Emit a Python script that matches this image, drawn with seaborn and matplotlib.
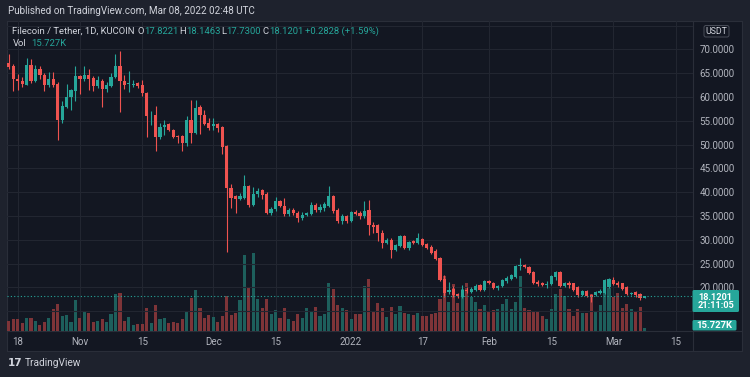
import matplotlib
matplotlib.use("Agg")
import matplotlib.pyplot as plt
from matplotlib.patches import FancyBboxPatch
import numpy as np
import pandas as pd
import seaborn as sns

# ---------------- data (FIL/USDT daily, KuCoin) ----------------
first_day = "2021-10-16"
opens = [67.2, 66.5, 63.8, 63.3, 62.6, 66.8, 63.3, 65.8, 64.7, 62.4,
         63.8, 62.8, 55.1, 57.9, 59.9, 61.2, 64.3, 63.7, 64.5, 64.0,
         62.2, 63.3, 61.7, 62.2, 64.1, 66.6, 63.3, 62.7, 62.5, 62.9,
         62.4, 60.8, 56.1, 56.1, 51.6, 53.7, 54.3, 53.1, 51.7, 51.7,
         50.4, 55.2, 52.5, 57.8, 56.3, 54.5, 53.8, 54.3, 53.7, 49.6,
         40.9, 39.1, 38.5, 38.8, 41.2, 37.2, 39.5, 40.4, 39.7, 35.6,
         36.4, 38.1, 37.0, 35.3, 36.3, 35.7, 34.6, 35.1, 35.3, 37.2,
         36.3, 36.7, 37.0, 39.1, 36.2, 33.9, 34.9, 33.9, 35.8, 35.7,
         34.9, 36.2, 33.1, 33.0, 31.4, 29.3, 30.0, 27.9, 28.6, 30.7,
         28.3, 29.7, 29.3, 30.2, 29.0, 28.5, 27.6, 26.2, 21.8, 19.0,
         19.7, 18.5, 18.0, 19.5, 19.1, 19.5, 20.4, 19.5, 21.3, 20.9,
         19.9, 20.2, 21.3, 21.7, 22.2, 24.5, 24.6, 24.3, 23.2, 21.1,
         20.9, 20.5, 20.6, 22.2, 23.2, 20.2, 20.9, 20.8, 20.0, 18.3,
         19.2, 18.3, 18.3, 18.8, 18.7, 20.1, 21.6, 20.9, 20.8, 20.1,
         18.5, 19.0, 18.5, 17.8221]
highs = [69.1, 67.0, 64.9, 64.1, 68.1, 68.0, 66.8, 66.4, 65.0, 65.2,
         65.2, 63.1, 59.1, 62.8, 61.6, 66.6, 64.6, 66.4, 65.8, 64.4,
         64.3, 63.8, 63.2, 65.1, 69.1, 69.6, 64.5, 65.4, 63.5, 63.2,
         63.5, 61.0, 57.0, 58.0, 54.5, 55.1, 54.6, 53.3, 52.0, 52.0,
         55.9, 59.3, 59.3, 58.2, 57.2, 55.6, 55.6, 54.5, 53.8, 49.8,
         41.6, 39.3, 39.8, 43.5, 41.5, 41.1, 40.8, 40.6, 40.0, 36.8,
         39.0, 38.4, 38.8, 36.6, 36.7, 36.0, 35.8, 35.9, 37.9, 37.7,
         37.4, 37.9, 41.2, 39.4, 36.6, 35.3, 35.2, 36.1, 36.2, 36.0,
         38.1, 38.4, 33.7, 33.2, 32.0, 30.4, 30.3, 29.2, 31.0, 31.0,
         29.8, 30.0, 31.5, 30.4, 29.4, 28.8, 28.0, 26.4, 22.5, 21.1,
         20.3, 18.8, 20.4, 20.0, 20.0, 20.6, 20.7, 21.6, 21.6, 21.1,
         20.5, 21.8, 22.3, 22.9, 24.7, 26.2, 24.9, 24.5, 23.4, 21.5,
         21.2, 21.3, 22.6, 23.5, 23.5, 21.1, 21.3, 21.0, 20.2, 19.4,
         19.4, 18.5, 19.3, 19.6, 21.7, 22.0, 22.2, 21.4, 21.0, 20.3,
         19.1, 19.2, 18.9, 18.1463]
lows = [65.8, 61.2, 61.4, 62.1, 62.4, 63.0, 63.2, 63.8, 61.2, 62.0,
        62.0, 51.0, 54.5, 57.7, 57.3, 59.1, 60.7, 63.3, 61.5, 61.2,
        61.9, 57.9, 61.1, 62.0, 64.0, 56.8, 61.7, 61.0, 62.0, 61.8,
        60.1, 51.5, 54.0, 48.6, 51.1, 52.1, 52.8, 51.4, 50.4, 48.6,
        49.7, 50.4, 52.3, 52.3, 54.0, 53.0, 53.0, 52.6, 48.1, 27.4,
        36.7, 35.6, 38.3, 38.5, 36.9, 37.0, 39.0, 38.6, 35.4, 35.2,
        36.0, 36.8, 35.0, 35.0, 35.2, 33.7, 34.2, 34.9, 35.1, 35.9,
        35.9, 36.0, 36.8, 35.6, 33.5, 33.2, 33.6, 33.7, 35.2, 34.4,
        34.6, 30.9, 31.4, 29.7, 28.3, 29.0, 26.2, 27.6, 28.4, 28.1,
        27.9, 29.0, 29.1, 28.6, 28.0, 27.0, 25.8, 21.3, 18.0, 18.6,
        18.0, 17.8, 17.8, 18.9, 18.8, 19.3, 19.2, 19.3, 20.7, 19.7,
        19.4, 20.0, 21.0, 21.5, 22.0, 23.6, 24.0, 22.8, 20.6, 20.2,
        20.2, 19.8, 20.4, 21.5, 20.0, 20.0, 19.9, 19.3, 18.0, 18.1,
        17.9, 16.9, 18.1, 18.6, 18.5, 19.9, 20.4, 20.0, 19.5, 18.3,
        18.3, 18.0, 17.3, 17.73]
closes = [66.3, 63.7, 63.3, 62.7, 66.8, 63.3, 65.8, 64.7, 62.5, 63.8,
          62.6, 55.1, 58.0, 59.9, 61.4, 64.3, 63.7, 64.5, 63.8, 62.2,
          63.5, 61.7, 62.5, 64.1, 66.6, 63.3, 62.6, 63.0, 62.8, 62.2,
          60.8, 55.9, 56.3, 51.6, 53.7, 54.2, 53.0, 51.6, 51.5, 50.4,
          55.2, 52.5, 57.6, 56.2, 54.4, 53.5, 54.4, 53.5, 49.5, 40.9,
          38.8, 38.5, 39.2, 41.2, 37.2, 39.7, 40.2, 39.3, 35.6, 36.5,
          38.1, 37.0, 35.3, 36.3, 35.6, 34.6, 35.1, 35.6, 37.2, 36.2,
          36.9, 37.4, 39.1, 36.0, 33.9, 34.9, 33.9, 35.8, 35.5, 34.9,
          36.0, 33.0, 32.7, 31.4, 29.3, 30.0, 27.9, 28.8, 30.7, 28.3,
          29.5, 29.3, 30.4, 28.8, 28.3, 27.2, 26.0, 21.6, 18.8, 19.5,
          18.3, 18.1, 19.5, 19.2, 19.7, 20.2, 19.5, 21.3, 20.9, 19.9,
          20.3, 21.5, 22.0, 22.5, 24.5, 24.6, 24.3, 23.0, 20.8, 20.7,
          20.5, 20.6, 22.3, 23.2, 20.2, 20.9, 20.5, 19.5, 18.3, 19.2,
          18.1, 18.0, 19.1, 19.2, 21.5, 21.7, 20.6, 20.5, 19.7, 18.5,
          18.9, 18.3, 17.8, 18.1201]
volumes_k = [48, 57, 57, 38, 62, 62, 48, 27, 43, 62,
             104, 127, 72, 76, 43, 146, 62, 97, 86, 44,
             48, 59, 42, 80, 175, 180, 48, 67, 29, 35,
             35, 111, 38, 124, 57, 62, 38, 43, 38, 57,
             92, 159, 197, 111, 62, 76, 65, 44, 70, 167,
             76, 84, 149, 363, 204, 371, 151, 108, 154, 80,
             99, 63, 108, 56, 48, 80, 63, 111, 95, 114,
             70, 80, 228, 200, 123, 108, 99, 56, 80, 80,
             215, 247, 95, 135, 111, 67, 114, 80, 118, 87,
             83, 76, 87, 72, 72, 83, 86, 154, 262, 140,
             223, 134, 199, 230, 162, 140, 106, 124, 92, 102,
             106, 127, 151, 106, 140, 262, 108, 102, 95, 91,
             72, 59, 106, 175, 202, 166, 106, 72, 106, 84,
             84, 175, 95, 124, 235, 245, 162, 181, 111, 127,
             106, 95, 116, 15.727]
grid_prices = [15, 20, 25, 30, 35, 40, 45, 50, 55, 60, 65, 70, 75]
price_ticks = [20, 25, 30, 35, 40, 45, 50, 55, 60, 65, 70]
date_tick_dates = ["2021-10-18", "2021-11-01", "2021-11-15", "2021-12-01",
                   "2021-12-15", "2022-01-01", "2022-01-17", "2022-02-01",
                   "2022-02-15", "2022-03-01", "2022-03-15"]
date_tick_labels = ["18", "Nov", "15", "Dec", "15", "2022", "17", "Feb",
                    "15", "Mar", "15"]
last_price = 18.1201

# ---------------- style ----------------
sns.set_theme(style="dark")
plt.rcParams["font.family"] = ["Roboto", "DejaVu Sans"]

W, H = 750, 377
OUTER = "#1e222d"
PANE = "#131722"
GRID = "#222631"
BORDER = "#2a2e39"
TXT = "#b2b5be"
HEAD = "#d1d4dc"
UP = "#26a69a"
DOWN = "#ef5350"
UP_VOL = "#1d5f5c"
DOWN_VOL = "#7e3438"
FS_AX = 7.0

fig = plt.figure(figsize=(W / 100, H / 100), dpi=100, facecolor=OUTER)


def px_rect(x0, y0, x1, y1):
    return [x0 / W, 1 - y1 / H, (x1 - x0) / W, (y1 - y0) / H]


# widget frame
frame = fig.add_axes(px_rect(7, 21, 742, 351))
frame.set_facecolor(PANE)
frame.set_xticks([]); frame.set_yticks([])
for s in frame.spines.values():
    s.set_color(BORDER); s.set_linewidth(0.8)
frame.set_xlim(7, 742); frame.set_ylim(351, 21)
frame.plot([693, 693], [21, 351], color=BORDER, lw=0.8)
frame.plot([7, 742], [331, 331], color=BORDER, lw=0.8)

df = pd.DataFrame({"date": pd.date_range(first_day, periods=len(opens), freq="D"),
                   "open": opens, "high": highs, "low": lows,
                   "close": closes, "volume": volumes_k})
df["idx"] = np.arange(len(df))
df["dir"] = np.where(df["close"] >= df["open"], "up", "down")

rect = px_rect(7, 21, 693, 331)
axv = fig.add_axes(rect)
axv.set_facecolor("none")
sns.barplot(data=df, x="idx", y="volume", hue="dir",
            palette={"up": UP_VOL, "down": DOWN_VOL}, native_scale=True,
            dodge=False, width=0.7, saturation=1, errorbar=None,
            legend=False, linewidth=0, ax=axv)
axv.set_ylim(0, 1479)

ax = fig.add_axes(rect, sharex=axv)
ax.set_facecolor("none")

# grid
tick_idx = [(pd.Timestamp(d) - df["date"].iloc[0]).days for d in date_tick_dates]
for t in grid_prices:
    ax.axhline(t, color=GRID, lw=0.8, zorder=0)
for t in tick_idx:
    axv.axvline(t, color=GRID, lw=0.8, zorder=0)

# candles
colors = np.where(df["dir"] == "up", UP, DOWN)
ax.vlines(df["idx"], df["low"], df["high"], colors=colors, lw=0.8, zorder=2)
body_bottom = np.minimum(df["open"], df["close"])
body_h = np.maximum(np.abs(df["close"] - df["open"]), 0.15)
ax.bar(df["idx"], body_h, bottom=body_bottom, width=0.72, color=colors,
       linewidth=0, zorder=3)

# last price line
ax.axhline(last_price, color=UP, lw=0.8, ls=(0, (1, 2)), zorder=4)

ax.set_xlim(-0.405, 153.9)
ax.set_ylim(10.82, 75.95)
for a in (ax, axv):
    a.set_xlabel(""); a.set_ylabel("")
    for s in a.spines.values():
        s.set_visible(False)
axv.set_yticks([])
axv.set_xticks(tick_idx)
axv.set_xticklabels(date_tick_labels, color=TXT, fontsize=FS_AX)
axv.tick_params(axis="x", length=0, pad=4)
ax.tick_params(axis="x", labelbottom=False, length=0)
ax.yaxis.tick_right()
ax.set_yticks(price_ticks)
ax.set_yticklabels([f"{t:.4f}" for t in price_ticks], color=TXT, fontsize=FS_AX)
ax.tick_params(axis="y", length=0, pad=4.5)
ax.grid(False); axv.grid(False)

# ---------------- overlays ----------------
ov = fig.add_axes([0, 0, 1, 1], facecolor="none")
ov.set_xlim(0, W); ov.set_ylim(H, 0); ov.axis("off")

ov.text(7.5, 11, "Published on TradingView.com, Mar 08, 2022 02:48 UTC",
        color=HEAD, fontsize=7.1, va="center", ha="left")

renderer = fig.canvas.get_renderer()


def run_text(x, y, parts, fs):
    """Draw consecutive coloured text segments starting at pixel x."""
    for s, c, gap in parts:
        t = ov.text(x, y, s, color=c, fontsize=fs, va="center", ha="left")
        bb = t.get_window_extent(renderer=renderer)
        x = x + bb.width + gap


run_text(12.5, 31.5, [("Filecoin / Tether, 1D, KUCOIN", HEAD, 4.5)], 6.8)
for x0, letter, val in [(137.3, "O", "17.8221"), (179.3, "H", "18.1463"),
                        (221.3, "L", "17.7300"), (262.7, "C", "18.1201")]:
    run_text(x0, 31.5, [(letter, HEAD, 0.3), (val, UP, 0)], 6.8)
run_text(305.3, 31.5, [("+0.2828 (+1.59%)", UP, 0)], 6.8)
run_text(12.5, 43.5, [("Vol", HEAD, 0)], 6.8)
run_text(31.5, 43.5, [("15.727K", UP, 0)], 6.8)

# USDT box
ov.add_patch(FancyBboxPatch((704, 25.5), 25, 11.5, boxstyle="round,pad=0,rounding_size=2",
                            fc=PANE, ec="#4a4e59", lw=0.7))
ov.text(716.5, 31.3, "USDT", color=HEAD, fontsize=6.3, ha="center", va="center")
# last price label
ov.add_patch(FancyBboxPatch((692.5, 290), 46.5, 22, boxstyle="round,pad=0,rounding_size=1.5",
                            fc=UP, ec="none"))
ov.text(715.7, 297, "18.1201", color="white", fontsize=6.6, ha="center", va="center",
        fontweight="bold")
ov.text(715.7, 306, "21:11:05", color="white", fontsize=6.6, ha="center", va="center",
        fontweight="bold")
# volume label
ov.add_patch(FancyBboxPatch((692.5, 320), 44, 10.5, boxstyle="round,pad=0,rounding_size=1.5",
                            fc=UP, ec="none"))
ov.text(714.5, 325.4, "15.727K", color="white", fontsize=6.8, ha="center", va="center",
        fontweight="bold")
# footer logo
ov.text(8, 363, "17", color=HEAD, fontsize=7.5, ha="left", va="center",
        fontweight="bold", family="DejaVu Sans")
ov.text(25, 363, "TradingView", color=HEAD, fontsize=7.3, ha="left", va="center")

fig.savefig("out.png", dpi=100, facecolor=OUTER)
